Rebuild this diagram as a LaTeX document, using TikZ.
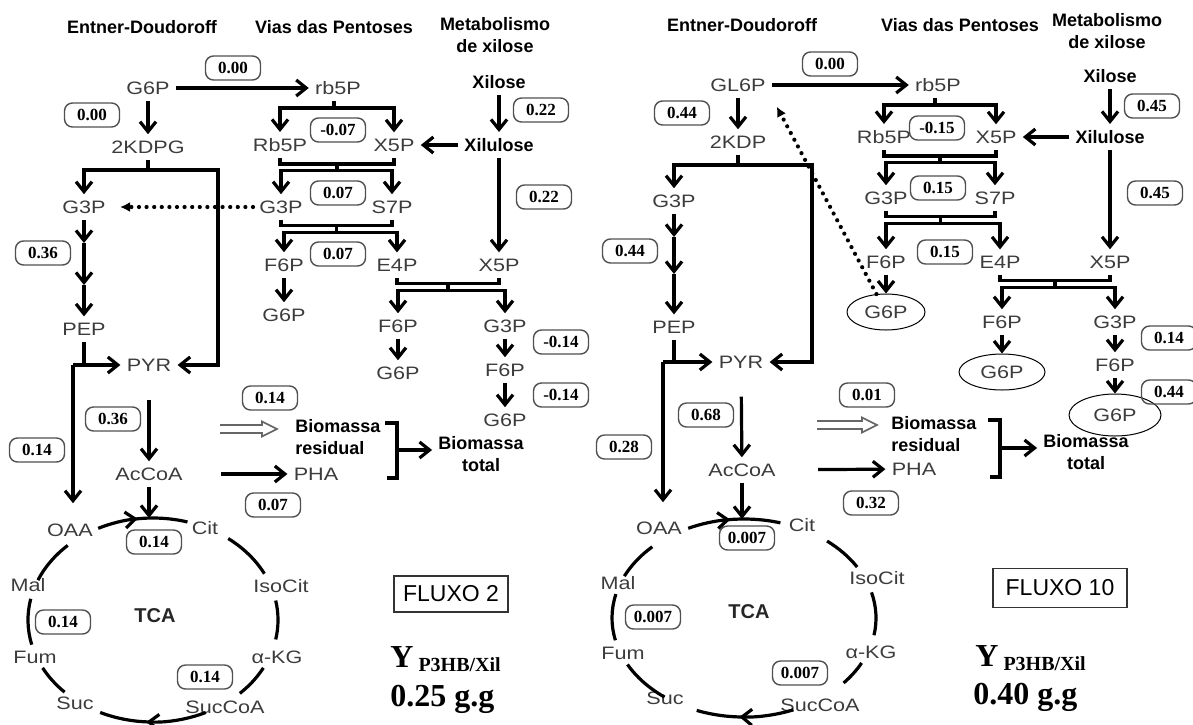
\documentclass[tikz,border=0pt]{standalone}
\usepackage{fontspec}
\setmainfont{Liberation Serif}
\setsansfont{Liberation Sans}
\newfontfamily\metfont[FakeStretch=1.2]{Liberation Sans}
\usepackage{tikz}
\usetikzlibrary{arrows.meta,calc,shapes.geometric}
\definecolor{metGray}{RGB}{60,60,60}
\definecolor{boxLine}{RGB}{80,80,80}

\begin{document}
\begin{tikzpicture}[
  x=0.5pt, y=-0.5pt,
  met/.style={font=\metfont\fontsize{9}{10}\selectfont, text=metGray, inner sep=3pt},
  hd/.style={font=\sffamily\bfseries\fontsize{9}{11}\selectfont, align=center, inner sep=3pt},
  tcalbl/.style={font=\sffamily\bfseries\fontsize{10}{12}\selectfont, text=black!85},
  val/.style={draw=boxLine, line width=0.7pt, rounded corners=4pt, font=\rmfamily\bfseries\fontsize{8.5}{9}\selectfont, minimum width=27.5pt, minimum height=12pt, inner sep=1pt},
  gell/.style={met, ellipse, draw=black, line width=0.5pt, inner sep=0pt, minimum width=39pt, minimum height=18pt},
  ln/.style={line width=1.6pt},
  ar/.style={line width=1.6pt, -{Straight Barb[length=5pt, width=8pt]}},
  dotar/.style={line width=2.1pt, line cap=round, dash pattern=on 0pt off 3.8pt, -{Latex[length=5pt, width=5pt]}, shorten >=4pt},
  hol/.style={draw=black!60, line width=0.8pt},
  flx/.style={draw=black!80, line width=0.6pt, font=\sffamily\fontsize{11.5}{12}\selectfont, minimum height=18pt},
  yld/.style={anchor=west, inner sep=0pt, font=\rmfamily\bfseries}
]
\useasboundingbox (0,0) rectangle (1193,724);

% ---- FLUXO 2 ----
\node[hd] (hED) at (142,27) {Entner-Doudoroff};
\node[hd] (hPP) at (334,27) {Vias das Pentoses};
\node[hd] (hXM) at (495,35) {Metabolismo\\de xilose};

\node[met] (G6P) at (148,88) {G6P};
\node[met] (KDPG) at (148,147) {2KDPG};
\node[met] (rb5P) at (338,88) {rb5P};
\node[met] (Rb5P) at (280,145) {Rb5P};
\node[met] (X5P) at (394,145) {X5P};
\node[hd] (Xil) at (499,82) {Xilose};
\node[hd] (Xlu) at (499,145) {Xilulose};
\node[met] (G3Pb) at (281,207) {G3P};
\node[met] (S7P) at (392,207) {S7P};
\node[met] (F6Pb) at (284,265) {F6P};
\node[met] (E4P) at (397,265) {E4P};
\node[met] (G6Pb) at (284,315) {G6P};
\node[met] (X5Pc) at (499,265) {X5P};
\node[met] (F6Pc) at (398,326) {F6P};
\node[met] (G3Pc) at (505,326) {G3P};
\node[met] (G6Pc) at (398,373) {G6P};
\node[met] (F6Pd) at (505,370) {F6P};
\node[met] (G6Pd) at (505,420) {G6P};
\node[met] (G3P) at (84,207) {G3P};
\node[met] (PEP) at (84,329) {PEP};
\node[met] (PYR) at (149,365) {PYR};
\node[met] (AcCoA) at (149,474) {AcCoA};
\node[met] (PHA) at (316,474) {PHA};
\node[hd, align=left, anchor=west] (BR) at (289,437) {Biomassa\\residual};
\node[hd] (BT) at (481,454) {Biomassa\\total};

\coordinate (tca) at (153,620);
\node[met] (OAA) at (70,530) {OAA};
\node[met] (Cit) at (205,528) {Cit};
\node[met] (IsoCit) at (281,586) {IsoCit};
\node[met] (aKG) at (277,657) {α-KG};
\node[met] (SucCoA) at (225,707) {SucCoA};
\node[met] (Suc) at (75,703) {Suc};
\node[met] (Fum) at (35,657) {Fum};
\node[met] (Mal) at (28,585) {Mal};
\node[tcalbl] (TCA) at (155,616) {TCA};

\node[val] (v1) at (233,68) {0.00};
\node[val] (v2) at (92,115) {0.00};
\node[val] (v3) at (338,130) {-0.07};
\node[val] (v4) at (541,110) {0.22};
\node[val] (v5) at (544,197) {0.22};
\node[val] (v6) at (338,193) {0.07};
\node[val] (v7) at (338,254) {0.07};
\node[val] (v8) at (43,253) {0.36};
\node[val] (v9) at (561,342) {-0.14};
\node[val] (v10) at (561,395) {-0.14};
\node[val] (v11) at (270,398) {0.14};
\node[val] (v12) at (113,419) {0.36};
\node[val] (v13) at (37,450) {0.14};
\node[val] (v14) at (273,505) {0.07};
\node[val] (v15) at (154,542) {0.14};
\node[val] (v16) at (63,622) {0.14};
\node[val] (v17) at (205,677) {0.14};

% pentoses
\draw[ar] (G6P) -- (KDPG);
\draw[ar] (G6P) -- (rb5P);
\coordinate (s1) at (334,108);
\draw[ln] (rb5P.south -| s1) -- (s1);
\draw[ar] (s1) -| (Rb5P);
\draw[ar] (s1) -| (X5P);
\draw[ar] (Xil) -- (Xlu);
\draw[ar] (Xlu) -- (X5P);
\draw[ar] (Xlu) -- (X5Pc);
\draw[ln] (Rb5P.south) -- ++(0,6) -| (X5P.south);
\coordinate (j1) at ($(Rb5P.south)!.5!(X5P.south)+(0,6)$);
\draw[ar] (j1) -- ++(0,7) -| (G3Pb);
\draw[ar] (j1) -- ++(0,7) -| (S7P);
\draw[dotar] (G3Pb) -- (G3P);
\draw[ln] (G3Pb.south) -- ++(0,6) -| (S7P.south);
\coordinate (j2) at ($(G3Pb.south)!.5!(S7P.south)+(0,6)$);
\draw[ar] (j2) -- ++(0,7) -| (F6Pb);
\draw[ar] (j2) -- ++(0,7) -| (E4P);
\draw[ar] (F6Pb) -- (G6Pb);
\draw[ln] (E4P.south) -- ++(0,6) -| (X5Pc.south);
\coordinate (j3) at ($(E4P.south)!.5!(X5Pc.south)+(0,6)$);
\draw[ar] (j3) -- ++(0,7) -| (F6Pc);
\draw[ar] (j3) -- ++(0,7) -| (G3Pc);
\draw[ar] (F6Pc) -- (G6Pc);
\draw[ar] (G3Pc) -- (F6Pd);
\draw[ar] (F6Pd) -- (G6Pd);

% Entner-Doudoroff
\coordinate (k1) at (148,170);
\coordinate (k2) at (218,170);
\draw[ln] (KDPG) -- (k1);
\draw[ar] (k1) -| (G3P);
\draw[ar] (k1) -- (k2) |- (PYR);
\coordinate (g1) at (84,243);
\coordinate (g2) at (84,285);
\draw[ar] (G3P) -- (g1);
\draw[ar] (g1) -- (g2);
\draw[ar] (g2) -- (PEP);
\coordinate (p1) at (73,365);
\draw[ln] (PEP) -- (PEP |- p1);
\draw[ar] (p1) -- (PYR);
\draw[ar, shorten >=7pt] (p1) -- (p1 |- OAA.north);
\draw[ar, shorten <=11pt] (PYR) -- (AcCoA);
\draw[ar, shorten <=16pt] (AcCoA) -- (PHA);
\coordinate (tcatop) at ($(tca)+(0,-102)$);
\draw[ar] (AcCoA) -- (AcCoA |- tcatop);

% biomassa
\coordinate (h1) at (220,429);
\draw[hol] (h1) ++(0,-4) -- ++(42,0) -- ++(0,-3.5) -- ++(15,7.5) -- ++(-15,7.5) -- ++(0,-3.5) -- ++(-42,0);
\coordinate (b1) at (385,423);
\coordinate (b2) at (387,478);
\coordinate (bm) at (397,450);
\draw[ln] (b1) -- ++(12,0) |- (b2);
\draw[ar] (bm) -- (bm -| BT.west);

% TCA
\draw[ar] ($(tca)+(-116:125 and 102)$) arc[start angle=-116, end angle=-97, x radius=125, y radius=102];
\draw[ar] ($(tca)+(65:125 and 102)$) arc[start angle=65, end angle=93, x radius=125, y radius=102];
\foreach \a/\b in {-99/-74, -53/-27, -11/11, 28/46, 91/115, 135/152, 166/192, 203/227}
  \draw[ln] ($(tca)+(\a:125 and 102)$) arc[start angle=\a, end angle=\b, x radius=125, y radius=102];

\node[flx, minimum width=57pt] (flx2) at (451,594) {FLUXO 2};
\node[yld] (y2) at (390,659) {\fontsize{16}{18}\selectfont Y\hspace{2.5pt}\raisebox{-2pt}{\fontsize{10}{12}\selectfont P3HB/Xil}};
\node[yld, font=\rmfamily\bfseries\fontsize{16}{18}\selectfont] (yv2) at (390,699) {0.25 g.g};

% ---- FLUXO 10 ----
\node[hd] (hEDR) at (742,25) {Entner-Doudoroff};
\node[hd] (hPPR) at (960,25) {Vias das Pentoses};
\node[hd] (hXMR) at (1107,31) {Metabolismo\\de xilose};

\node[met] (GL6P) at (738,85) {GL6P};
\node[met] (KDP) at (738,142) {2KDP};
\node[met] (rb5PR) at (938,85) {rb5P};
\node[met] (Rb5PR) at (884,137) {Rb5P};
\node[met] (X5PR) at (996,137) {X5P};
\node[hd] (XilR) at (1110,76) {Xilose};
\node[hd] (XluR) at (1110,137) {Xilulose};
\node[met] (G3PbR) at (886,198) {G3P};
\node[met] (S7PR) at (995,198) {S7P};
\node[met] (F6PbR) at (886,262) {F6P};
\node[met] (E4PR) at (1000,262) {E4P};
\node[gell] (G6PbR) at (886,312) {G6P};
\node[met] (X5PcR) at (1110,262) {X5P};
\node[met] (F6PcR) at (1002,322) {F6P};
\node[met] (G3PcR) at (1115,322) {G3P};
\node[gell, minimum width=43pt] (G6PcR) at (1002,372) {G6P};
\node[met] (F6PdR) at (1115,365) {F6P};
\node[gell, minimum width=46pt, minimum height=21pt] (G6PdR) at (1115,415) {G6P};
\node[met] (G3PR) at (674,201) {G3P};
\node[met] (PEPR) at (674,327) {PEP};
\node[met] (PYRR) at (741,362) {PYR};
\node[met] (AcCoAR) at (742,470) {AcCoA};
\node[met] (PHAR) at (914,469) {PHA};
\node[hd, align=left, anchor=west] (BRR) at (885,434) {Biomassa\\residual};
\node[hd] (BTR) at (1086,452) {Biomassa\\total};

\coordinate (tcaR) at (744,618);
\node[met] (OAAR) at (659,528) {OAA};
\node[met] (CitR) at (802,525) {Cit};
\node[met] (IsoCitR) at (877,578) {IsoCit};
\node[met] (aKGR) at (871,652) {α-KG};
\node[met] (SucCoAR) at (820,705) {SucCoA};
\node[met] (SucR) at (665,698) {Suc};
\node[met] (FumR) at (623,653) {Fum};
\node[met] (MalR) at (618,583) {Mal};
\node[tcalbl] (TCAR) at (749,612) {TCA};

\node[val] (w1) at (830,64) {0.00};
\node[val] (w2) at (682,113) {0.44};
\node[val] (w3) at (937,128) {-0.15};
\node[val] (w4) at (1152,106) {0.45};
\node[val] (w5) at (1155,193) {0.45};
\node[val] (w6) at (938,188) {0.15};
\node[val] (w7) at (945,252) {0.15};
\node[val] (w8) at (630,251) {0.44};
\node[val] (w9) at (1169,338) {0.14};
\node[val] (w10) at (1169,392) {0.44};
\node[val] (w11) at (867,395) {0.01};
\node[val] (w12) at (706,415) {0.68};
\node[val] (w13) at (624,447) {0.28};
\node[val] (w14) at (871,503) {0.32};
\node[val] (w15) at (747,538) {0.007};
\node[val] (w16) at (653,617) {0.007};
\node[val] (w17) at (800,673) {0.007};

% pentoses
\draw[ar] (GL6P) -- (KDP);
\draw[ar] (GL6P) -- (rb5PR);
\coordinate (s1R) at (935,105);
\draw[ln] (rb5PR.south -| s1R) -- (s1R);
\draw[ar] (s1R) -| (Rb5PR);
\draw[ar] (s1R) -| (X5PR);
\draw[ar] (XilR) -- (XluR);
\draw[ar] (XluR) -- (X5PR);
\draw[ar] (XluR) -- (X5PcR);
\draw[ln] (Rb5PR.south) -- ++(0,6) -| (X5PR.south);
\coordinate (j1R) at ($(Rb5PR.south)!.5!(X5PR.south)+(0,6)$);
\draw[ar] (j1R) -- ++(0,7) -| (G3PbR);
\draw[ar] (j1R) -- ++(0,7) -| (S7PR);
\draw[ln] (G3PbR.south) -- ++(0,6) -| (S7PR.south);
\coordinate (j2R) at ($(G3PbR.south)!.5!(S7PR.south)+(0,6)$);
\draw[ar] (j2R) -- ++(0,7) -| (F6PbR);
\draw[ar] (j2R) -- ++(0,7) -| (E4PR);
\draw[ar] (F6PbR) -- (G6PbR);
\draw[dotar, shorten >=5pt] (G6PbR) -- (GL6P.south east);
\draw[ln] (E4PR.south) -- ++(0,6) -| (X5PcR.south);
\coordinate (j3R) at ($(E4PR.south)!.5!(X5PcR.south)+(0,6)$);
\draw[ar] (j3R) -- ++(0,7) -| (F6PcR);
\draw[ar] (j3R) -- ++(0,7) -| (G3PcR);
\draw[ar] (F6PcR) -- (G6PcR);
\draw[ar] (G3PcR) -- (F6PdR);
\draw[ar] (F6PdR) -- (G6PdR);

% Entner-Doudoroff
\coordinate (k1R) at (738,165);
\coordinate (k2R) at (812,165);
\draw[ln] (KDP) -- (k1R);
\draw[ar] (k1R) -| (G3PR);
\draw[ar] (k1R) -- (k2R) |- (PYRR);
\coordinate (g1R) at (674,237);
\coordinate (g2R) at (674,274);
\draw[ar] (G3PR) -- (g1R);
\draw[ar] (g1R) -- (g2R);
\draw[ar] (g2R) -- (PEPR);
\coordinate (p1R) at (663,362);
\draw[ln] (PEPR) -- (PEPR |- p1R);
\draw[ar] (p1R) -- (PYRR);
\draw[ar, shorten >=6.5pt] (p1R) -- (p1R |- OAAR.north);
\draw[ar, shorten <=11pt] (PYRR) -- (AcCoAR);
\draw[ar, shorten <=18pt] (AcCoAR) -- (PHAR);
\coordinate (tcatopR) at ($(tcaR)+(0,-99)$);
\draw[ar] (AcCoAR) -- (AcCoAR |- tcatopR);

% biomassa
\coordinate (h2) at (817,425);
\draw[hol] (h2) ++(0,-4) -- ++(45,0) -- ++(0,-3.5) -- ++(15,7.5) -- ++(-15,7.5) -- ++(0,-3.5) -- ++(-45,0);
\coordinate (b1R) at (988,420);
\coordinate (b2R) at (990,477);
\coordinate (bmR) at (1000,448);
\draw[ln] (b1R) -- ++(12,0) |- (b2R);
\draw[ar] (bmR) -- (bmR -| BTR.west);

% TCA
\draw[ar] ($(tcaR)+(-115:132 and 99)$) arc[start angle=-115, end angle=-96, x radius=132, y radius=99];
\draw[ar] ($(tcaR)+(68:132 and 99)$) arc[start angle=68, end angle=92, x radius=132, y radius=99];
\foreach \a/\b in {-98/-74, -51/-31, -15/10, 27/41, 90/111, 127/152, 167/194, 205/226}
  \draw[ln] ($(tcaR)+(\a:132 and 99)$) arc[start angle=\a, end angle=\b, x radius=132, y radius=99];

\node[flx, minimum width=67pt, minimum height=19.5pt] (flx10) at (1060,588) {FLUXO 10};
\node[yld] (y10) at (975,658) {\fontsize{16}{18}\selectfont Y\hspace{2.5pt}\raisebox{-2pt}{\fontsize{10}{12}\selectfont P3HB/Xil}};
\node[yld, font=\rmfamily\bfseries\fontsize{16}{18}\selectfont] (yv10) at (973,697) {0.40 g.g};
\end{tikzpicture}
\end{document}
